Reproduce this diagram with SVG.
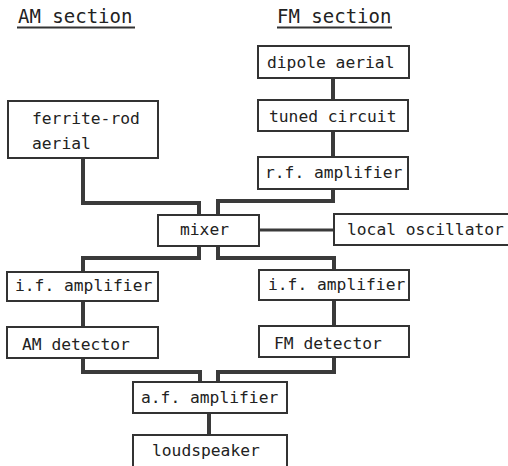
<svg xmlns="http://www.w3.org/2000/svg" width="508" height="466" viewBox="0 0 508 466">
<style>
.box{fill:#fff;stroke:#333;stroke-width:2}
.lbl{font-family:"DejaVu Sans Mono","Liberation Mono",monospace;font-size:16.3px;fill:#222}
.title{font-family:"DejaVu Sans Mono","Liberation Mono",monospace;font-size:19px;fill:#222}
.ul{stroke:#333;stroke-width:2}
#connectors polyline,#connectors line{fill:none;stroke:#3a3a3a;stroke-width:4}
</style>
<rect width="508" height="466" fill="#fff"/>
<g id="titles">
<text class="title" x="18" y="23">AM section</text>
<line class="ul" x1="17" y1="27.5" x2="135" y2="27.5"/>
<text class="title" x="277" y="23">FM section</text>
<line class="ul" x1="277" y1="27.5" x2="392" y2="27.5"/>
</g>
<g id="connectors">
<line x1="333" y1="78" x2="333" y2="100"/>
<line x1="333" y1="131" x2="333" y2="157"/>
<polyline points="333,189 333,201 218,201 218,215"/>
<polyline points="83,158 83,203 199,203 199,215"/>
<line x1="259" y1="230" x2="334" y2="230" style="stroke-width:3"/>
<polyline points="199,246 199,258 83,258 83,272"/>
<polyline points="218,246 218,258 334,258 334,270"/>
<line x1="83" y1="301" x2="83" y2="327"/>
<line x1="334" y1="300" x2="334" y2="326"/>
<polyline points="83,358 83,372 200,372 200,382"/>
<polyline points="334,357 334,372 218,372 218,382"/>
<line x1="209" y1="413" x2="209" y2="435"/>
</g>
<g id="dipole"><rect class="box" x="258" y="46" width="151" height="32"/><text class="lbl" x="267" y="68">dipole aerial</text></g>
<g id="tuned"><rect class="box" x="258" y="100" width="150" height="31"/><text class="lbl" x="269" y="122">tuned circuit</text></g>
<g id="rfamp"><rect class="box" x="258" y="157" width="150" height="32"/><text class="lbl" x="265" y="178">r.f. amplifier</text></g>
<g id="ferrite"><rect class="box" x="8" y="101" width="150" height="57"/><text class="lbl" x="32" y="124">ferrite-rod</text><text class="lbl" x="32" y="149">aerial</text></g>
<g id="mixer"><rect class="box" x="158" y="215" width="101" height="31"/><text class="lbl" x="180" y="235">mixer</text></g>
<g id="lo"><rect class="box" x="334" y="214" width="180" height="31"/><text class="lbl" x="347" y="235">local oscillator</text></g>
<g id="ifleft"><rect class="box" x="7" y="272" width="151" height="29"/><text class="lbl" x="15" y="291">i.f. amplifier</text></g>
<g id="amdet"><rect class="box" x="7" y="327" width="151" height="31"/><text class="lbl" x="22" y="350">AM detector</text></g>
<g id="ifright"><rect class="box" x="259" y="270" width="150" height="30"/><text class="lbl" x="268" y="290">i.f. amplifier</text></g>
<g id="fmdet"><rect class="box" x="259" y="326" width="150" height="31"/><text class="lbl" x="274" y="349">FM detector</text></g>
<g id="afamp"><rect class="box" x="133" y="382" width="154" height="31"/><text class="lbl" x="141" y="403">a.f. amplifier</text></g>
<g id="speaker"><rect class="box" x="133" y="435" width="154" height="40"/><text class="lbl" x="152" y="456">loudspeaker</text></g>
</svg>
